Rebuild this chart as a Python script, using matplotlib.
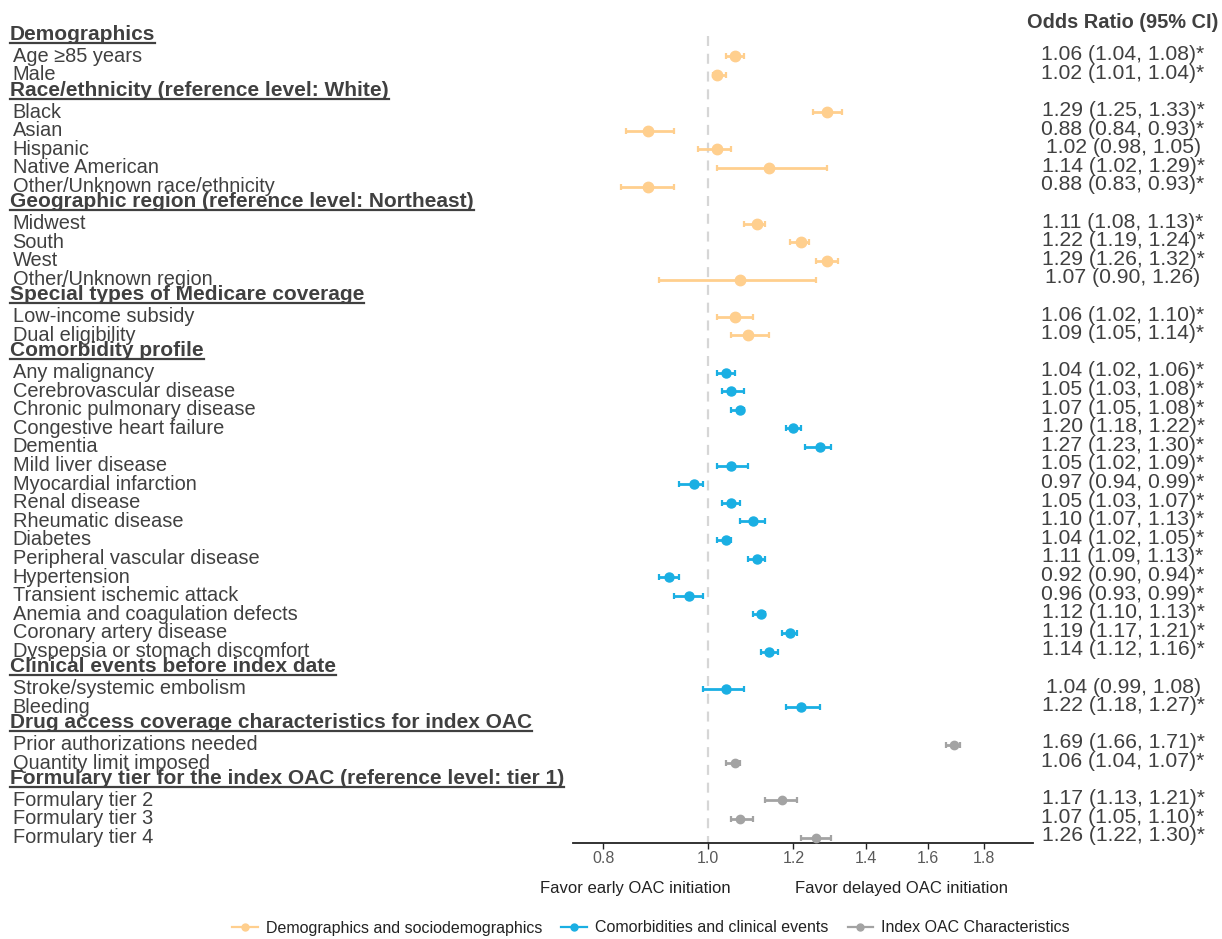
import matplotlib
matplotlib.use("Agg")
import matplotlib.pyplot as plt
from matplotlib.lines import Line2D
from matplotlib.transforms import blended_transform_factory
from matplotlib.ticker import FixedLocator, FixedFormatter, NullLocator
import numpy as np

plt.rcParams['font.family'] = ['Liberation Sans', 'DejaVu Sans']

# ---------------- data ----------------
section_titles = [
    "Demographics",
    "Race/ethnicity (reference level: White)",
    "Geographic region (reference level: Northeast)",
    "Special types of Medicare coverage",
    "Comorbidity profile",
    "Clinical events before index date",
    "Drug access coverage characteristics for index OAC",
    "Formulary tier for the index OAC (reference level: tier 1)",
]
section_sizes = [2, 5, 4, 2, 16, 2, 2, 3]

item_labels = [
    "Age \u226585 years", "Male",
    "Black", "Asian", "Hispanic", "Native American", "Other/Unknown race/ethnicity",
    "Midwest", "South", "West", "Other/Unknown region",
    "Low-income subsidy", "Dual eligibility",
    "Any malignancy", "Cerebrovascular disease", "Chronic pulmonary disease",
    "Congestive heart failure", "Dementia", "Mild liver disease",
    "Myocardial infarction", "Renal disease", "Rheumatic disease", "Diabetes",
    "Peripheral vascular disease", "Hypertension", "Transient ischemic attack",
    "Anemia and coagulation defects", "Coronary artery disease",
    "Dyspepsia or stomach discomfort",
    "Stroke/systemic embolism", "Bleeding",
    "Prior authorizations needed", "Quantity limit imposed",
    "Formulary tier 2", "Formulary tier 3", "Formulary tier 4",
]
odds_ratio = [1.06, 1.02,
              1.29, 0.88, 1.02, 1.14, 0.88,
              1.11, 1.22, 1.29, 1.07,
              1.06, 1.09,
              1.04, 1.05, 1.07, 1.20, 1.27, 1.05, 0.97, 1.05, 1.10, 1.04,
              1.11, 0.92, 0.96, 1.12, 1.19, 1.14,
              1.04, 1.22,
              1.69, 1.06,
              1.17, 1.07, 1.26]
ci_low = [1.04, 1.01,
          1.25, 0.84, 0.98, 1.02, 0.83,
          1.08, 1.19, 1.26, 0.90,
          1.02, 1.05,
          1.02, 1.03, 1.05, 1.18, 1.23, 1.02, 0.94, 1.03, 1.07, 1.02,
          1.09, 0.90, 0.93, 1.10, 1.17, 1.12,
          0.99, 1.18,
          1.66, 1.04,
          1.13, 1.05, 1.22]
ci_high = [1.08, 1.04,
           1.33, 0.93, 1.05, 1.29, 0.93,
           1.13, 1.24, 1.32, 1.26,
           1.10, 1.14,
           1.06, 1.08, 1.08, 1.22, 1.30, 1.09, 0.99, 1.07, 1.13, 1.05,
           1.13, 0.94, 0.99, 1.13, 1.21, 1.16,
           1.08, 1.27,
           1.71, 1.07,
           1.21, 1.10, 1.30]
item_group = [0] * 13 + [1] * 18 + [2] * 5

group_names = ["Demographics and sociodemographics",
               "Comorbidities and clinical events",
               "Index OAC Characteristics"]
group_colors = ["#FFCF8E", "#1AAFE3", "#A3A3A3"]

tick_values = [0.8, 1.0, 1.2, 1.4, 1.6, 1.8]
tick_labels = ["0.8", "1.0", "1.2", "1.4", "1.6", "1.8"]

# ---------------- layout ----------------
W, H = 1222, 939
fig = plt.figure(figsize=(W / 100, H / 100), dpi=100)
fig.patch.set_facecolor("white")

ROW0, ROWH = 37.8, 18.6          # pixel y of row 0 and row pitch
AX_L, AX_R, AX_B, AX_T = 573, 1033, 843, 25
ax = fig.add_axes([AX_L / W, 1 - AX_B / H, (AX_R - AX_L) / W, (AX_B - AX_T) / H])
ax.set_xscale("log")
ax.set_xlim(0.75, 2.0)
y_bottom = (AX_B - ROW0) / ROWH
y_top = (AX_T - ROW0) / ROWH
ax.set_ylim(y_bottom, y_top)

for s in ["top", "right", "left"]:
    ax.spines[s].set_visible(False)
ax.spines["bottom"].set_linewidth(1.3)
ax.spines["bottom"].set_color("#222222")
ax.yaxis.set_major_locator(NullLocator())
ax.xaxis.set_major_locator(FixedLocator(tick_values))
ax.xaxis.set_major_formatter(FixedFormatter(tick_labels))
ax.xaxis.set_minor_locator(NullLocator())
ax.tick_params(axis="x", length=4, width=1, color="#222222", labelsize=11.5,
               labelcolor="#595959", pad=2)
ax.patch.set_alpha(0)

ax.vlines(1.0, -0.1, y_bottom, color="#D6D6D6", lw=1.6,
          linestyles=[(0, (4.5, 3.5))], zorder=0)

# row assignment
row_of_item = []
row_of_header = []
r = 0
for title, n in zip(section_titles, section_sizes):
    row_of_header.append(r)
    r += 1
    for _ in range(n):
        row_of_item.append(r)
        r += 1

trans = blended_transform_factory(fig.transFigure, ax.transData)
px = 1.0 / ROWH  # one pixel in row units

# points
msizes = [7.5, 6.5, 6]
for g in range(3):
    idx = [i for i in range(len(item_labels)) if item_group[i] == g]
    y = np.array([row_of_item[i] for i in idx], dtype=float)
    o = np.array([odds_ratio[i] for i in idx])
    lo = np.array([ci_low[i] for i in idx])
    hi = np.array([ci_high[i] for i in idx])
    ax.errorbar(o, y, xerr=[o - lo, hi - o], fmt="o", color=group_colors[g],
                ms=msizes[g], elinewidth=2.0, capsize=2.2, capthick=1.6, zorder=3)

text_color = "#404040"
# item labels
for i, lab in enumerate(item_labels):
    ax.text(12.5 / W, row_of_item[i] + 5.4 * px, lab, transform=trans,
            ha="left", va="baseline", fontsize=14.4, color=text_color)
    o, lo, hi = odds_ratio[i], ci_low[i], ci_high[i]
    star = "*" if (lo > 1 or hi < 1) else ""
    txt = f"{o:.2f} ({lo:.2f}, {hi:.2f}){star}"
    ax.text(1123 / W, row_of_item[i] + 3.8 * px, txt, transform=trans,
            ha="center", va="baseline", fontsize=15.2, color=text_color)

# headers
header_texts = []
for j, title in enumerate(section_titles):
    t = ax.text(10 / W, row_of_header[j] + 2 * px, title, transform=trans,
                ha="left", va="baseline", fontsize=15, fontweight="bold",
                color=text_color)
    header_texts.append((t, row_of_header[j]))

fig.text(1123 / W, 1 - 28 / H, "Odds Ratio (95% CI)", ha="center", va="baseline",
         fontsize=14.4, fontweight="bold", color=text_color)

fig.text(635 / W, 1 - 888 / H, "Favor early OAC initiation", ha="center",
         va="center", fontsize=12, color="#222222")
fig.text(901 / W, 1 - 888 / H, "Favor delayed OAC initiation", ha="center",
         va="center", fontsize=12, color="#222222")

handles = [Line2D([], [], color=c, marker="o", ms=5, lw=1.6) for c in group_colors]
fig.legend(handles, group_names, loc="center", bbox_to_anchor=(651 / W, 1 - 928 / H),
           ncol=3, frameon=False, fontsize=11.5, handlelength=1.6,
           handletextpad=0.5, columnspacing=1.2, labelcolor="#222222")

# underline headers
fig.canvas.draw()
renderer = fig.canvas.get_renderer()
for t, row in header_texts:
    bb = t.get_window_extent(renderer=renderer)
    ybase_px = ROW0 + ROWH * row + 2 + 3.2  # from top
    yfig = 1 - ybase_px / H
    fig.add_artist(Line2D([bb.x0 / W, bb.x1 / W], [yfig, yfig],
                          transform=fig.transFigure, color=text_color, lw=1.6))

fig.savefig("out.png", dpi=100, facecolor="white")
